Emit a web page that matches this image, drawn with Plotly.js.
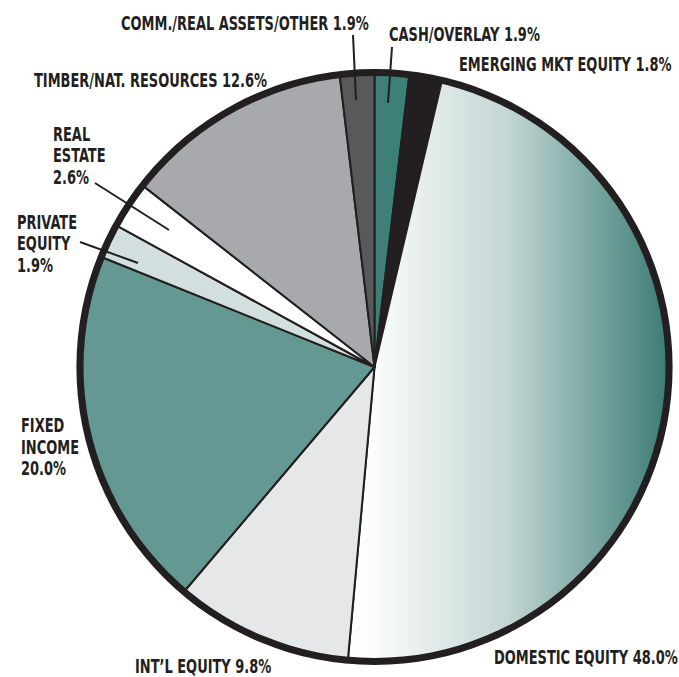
<!DOCTYPE html>
<html>
<head>
<meta charset="utf-8">
<script src="https://cdn.plot.ly/plotly-3.0.1.min.js"></script>
<style>
  html, body { margin: 0; padding: 0; background: #ffffff; }
  #chart { width: 679px; height: 677px; }
</style>
</head>
<body>
<div id="chart"></div>
<script>
// ---- data ----
const categories = [
  'CASH/OVERLAY',
  'EMERGING MKT EQUITY',
  'DOMESTIC EQUITY',
  "INT\u2019L EQUITY",
  'FIXED INCOME',
  'PRIVATE EQUITY',
  'REAL ESTATE',
  'TIMBER/NAT. RESOURCES',
  'COMM./REAL ASSETS/OTHER'
];
const values = [1.9, 1.8, 48.0, 9.8, 20.0, 1.9, 2.6, 12.6, 1.9];
const labelTexts = [
  'CASH/OVERLAY 1.9%',
  'EMERGING MKT EQUITY 1.8%',
  'DOMESTIC EQUITY 48.0%',
  'INT\u2019L EQUITY 9.8%',
  'FIXED<br>INCOME<br>20.0%',
  'PRIVATE<br>EQUITY<br>1.9%',
  'REAL<br>ESTATE<br>2.6%',
  'TIMBER/NAT. RESOURCES 12.6%',
  'COMM./REAL ASSETS/OTHER 1.9%'
];

// ---- styles ----
const sliceColors = ['#3d8078', '#231f20', '#a9c6c2', '#e6e7e8', '#639893', '#d2dfde', '#ffffff', '#a7a9ac', '#58595b'];
const ink = '#231f20';
const W = 679, H = 677;
const px = x => x / W;
const py = y => (H - y) / H;

// label anchor positions (pixels: left x, centre y of first text line)
const labelPos = [
  [387, 34], [457, 64], [492, 657], [133, 666], [19, 425], [15, 222], [51, 134], [32, 80], [119, 23]
];
const lineGap = 21.5;
const textScaleX = 0.76;
// leader lines [x0, y0, x1, y1] in pixels
const leaders = [
  [392, 47, 388, 103],
  [353, 35, 356, 100],
  [95, 183, 169, 230],
  [80, 242, 138, 263]
];

const cx = 374.5, cy = 367, rOuter = 298, rPie = 295, rInner = 291;

const pie = {
  type: 'pie',
  labels: categories,
  values: values,
  sort: false,
  direction: 'clockwise',
  rotation: 0,
  textinfo: 'none',
  hoverinfo: 'label+percent',
  marker: { colors: sliceColors, line: { color: ink, width: 2 } },
  domain: { x: [px(cx - rPie), px(cx + rPie)], y: [py(cy + rPie), py(cy - rPie)] },
  showlegend: false
};
const ring = {
  type: 'pie',
  labels: ['border'],
  values: [1],
  sort: false,
  hole: rInner / rOuter,
  textinfo: 'none',
  hoverinfo: 'skip',
  marker: { colors: [ink], line: { width: 0 } },
  domain: { x: [px(cx - rOuter), px(cx + rOuter)], y: [py(cy + rOuter), py(cy - rOuter)] },
  showlegend: false
};

const font = { family: '"DejaVu Sans Condensed", "DejaVu Sans", sans-serif', size: 19, color: ink, weight: 'bold' };

const annotations = [];
labelTexts.forEach((t, i) => {
  t.split('<br>').forEach((line, j) => {
    annotations.push({
      xref: 'paper', yref: 'paper',
      x: px(labelPos[i][0]), y: py(labelPos[i][1] + j * lineGap),
      xanchor: 'left', yanchor: 'middle', align: 'left',
      text: line, showarrow: false, font: font
    });
  });
});

const shapes = leaders.map(l => ({
  type: 'line', xref: 'paper', yref: 'paper',
  x0: px(l[0]), y0: py(l[1]), x1: px(l[2]), y1: py(l[3]),
  line: { color: ink, width: 2 }
}));

const layout = {
  width: W, height: H,
  margin: { l: 0, r: 0, t: 0, b: 0 },
  paper_bgcolor: '#ffffff',
  plot_bgcolor: '#ffffff',
  annotations: annotations,
  shapes: shapes,
  showlegend: false
};

Plotly.newPlot('chart', [pie, ring], layout, { displayModeBar: false, staticPlot: true }).then(gd => {
  // condense label glyphs horizontally (the reference uses a condensed face)
  gd.querySelectorAll('.annotation-text').forEach(t => {
    t.style.transformBox = 'fill-box';
    t.style.transformOrigin = 'left center';
    t.style.transform = 'scaleX(' + textScaleX + ')';
  });
  // gradient fill for the domestic-equity slice
  const traces = gd.querySelectorAll('.pielayer .trace');
  const slices = traces[0].querySelectorAll('.slice path.surface');
  const path = slices[categories.indexOf('DOMESTIC EQUITY')];
  const svg = path.ownerSVGElement;
  const NS = 'http://www.w3.org/2000/svg';
  const defs = document.createElementNS(NS, 'defs');
  const grad = document.createElementNS(NS, 'linearGradient');
  grad.setAttribute('id', 'domGrad');
  grad.setAttribute('x1', '0'); grad.setAttribute('y1', '0');
  grad.setAttribute('x2', '1'); grad.setAttribute('y2', '0');
  [['0', '#ffffff'], ['0.08', '#fbfcfc'], ['0.5', '#c2d6d3'], ['1', '#3a7b74']].forEach(s => {
    const st = document.createElementNS(NS, 'stop');
    st.setAttribute('offset', s[0]);
    st.setAttribute('stop-color', s[1]);
    grad.appendChild(st);
  });
  defs.appendChild(grad);
  svg.insertBefore(defs, svg.firstChild);
  path.style.fill = 'url(#domGrad)';
});
</script>
</body>
</html>
